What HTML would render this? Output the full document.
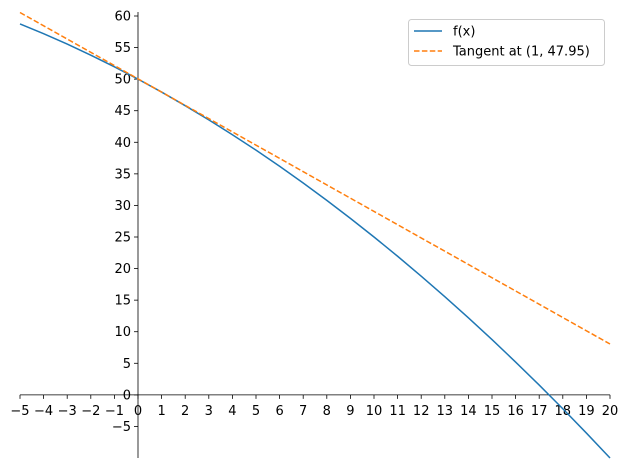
<!DOCTYPE html>
<html><head><meta charset="utf-8"><style>
body{margin:0;background:#fff;}
svg{display:block;font-family:"DejaVu Sans","Liberation Sans",sans-serif;}
</style></head><body>
<svg id="chart" width="630" height="469"></svg>
<script>
const xValues=[-5,-4,-3,-2,-1,0,1,2,3,4,5,6,7,8,9,10,11,12,13,14,15,16,17,18,19,20];
const fValues=[58.75,57.2,55.55,53.8,51.95,50,47.95,45.8,43.55,41.2,38.75,36.2,33.55,30.8,27.95,25,21.95,18.8,15.55,12.2,8.75,5.2,1.55,-2.2,-6.05,-10];
const tangentX=[-5,20];
const tangentY=[60.55,8.05];
const xTicks=[-5,-4,-3,-2,-1,0,1,2,3,4,5,6,7,8,9,10,11,12,13,14,15,16,17,18,19,20];
const yTicks=[-5,0,5,10,15,20,25,30,35,40,45,50,55,60];
const legendLabels=["f(x)","Tangent at (1, 47.95)"];

const svg=document.getElementById('chart');
const NS='http://www.w3.org/2000/svg';
const X0=20,X1=610,XMIN=-5,XMAX=20;
const Y0=458,Y1=16,YMIN=-10,YMAX=60;
const sx=v=>X0+(v-XMIN)/(XMAX-XMIN)*(X1-X0);
const sy=v=>Y0-(v-YMIN)/(YMAX-YMIN)*(Y0-Y1);
function mk(t,a){const e=document.createElementNS(NS,t);for(const k in a)e.setAttribute(k,a[k]);svg.appendChild(e);return e;}

let e=mk('line',{x1:sx(0),x2:sx(0),y1:Y0,y2:Y1-4,stroke:'#000','stroke-width':0.8});


e=mk('line',{x1:X0,x2:X1,y1:sy(0),y2:sy(0),stroke:'#000','stroke-width':0.8});



xTicks.forEach(v=>{
 const t=mk('line',{x1:sx(v),x2:sx(v),y1:sy(0),y2:sy(0)+4,stroke:'#000','stroke-width':0.8});
 
 
 const l=mk('text',{x:sx(v),y:sy(0)+20,'text-anchor':'middle','font-size':13});
 l.textContent=v<0?'\u2212'+(-v):v;
 
 
});
yTicks.forEach(v=>{
 const t=mk('line',{x1:sx(0)-4,x2:sx(0),y1:sy(v),y2:sy(v),stroke:'#000','stroke-width':0.8});
 
 
 const l=mk('text',{x:sx(0)-7,y:sy(v)+4.5,'text-anchor':'end','font-size':13});
 l.textContent=v<0?'\u2212'+(-v):v;
 
 
});

const fp=mk('polyline',{points:xValues.map((x,i)=>sx(x)+','+sy(fValues[i])).join(' '),fill:'none',stroke:'#1f77b4','stroke-width':1.5});


const tp=mk('polyline',{points:tangentX.map((x,i)=>sx(x)+','+sy(tangentY[i])).join(' '),fill:'none',stroke:'#ff7f0e','stroke-width':1.5,'stroke-dasharray':'5.5,2.4'});



const lg=mk('rect',{x:408.5,y:19.5,width:196,height:46,rx:3,fill:'#fff',stroke:'#ccc','stroke-width':1});


const colors=['#1f77b4','#ff7f0e'];
legendLabels.forEach((s,i)=>{
 const y=31+i*20;
 const ln=mk('line',{x1:414,x2:442,y1:y,y2:y,stroke:colors[i],'stroke-width':1.5,'stroke-dasharray':i?'5.5,2.4':'none'});
 
 
 const tx=mk('text',{x:453,y:y+4.5,'font-size':13});
 tx.textContent=s;
 
 
});
</script>
</body></html>
